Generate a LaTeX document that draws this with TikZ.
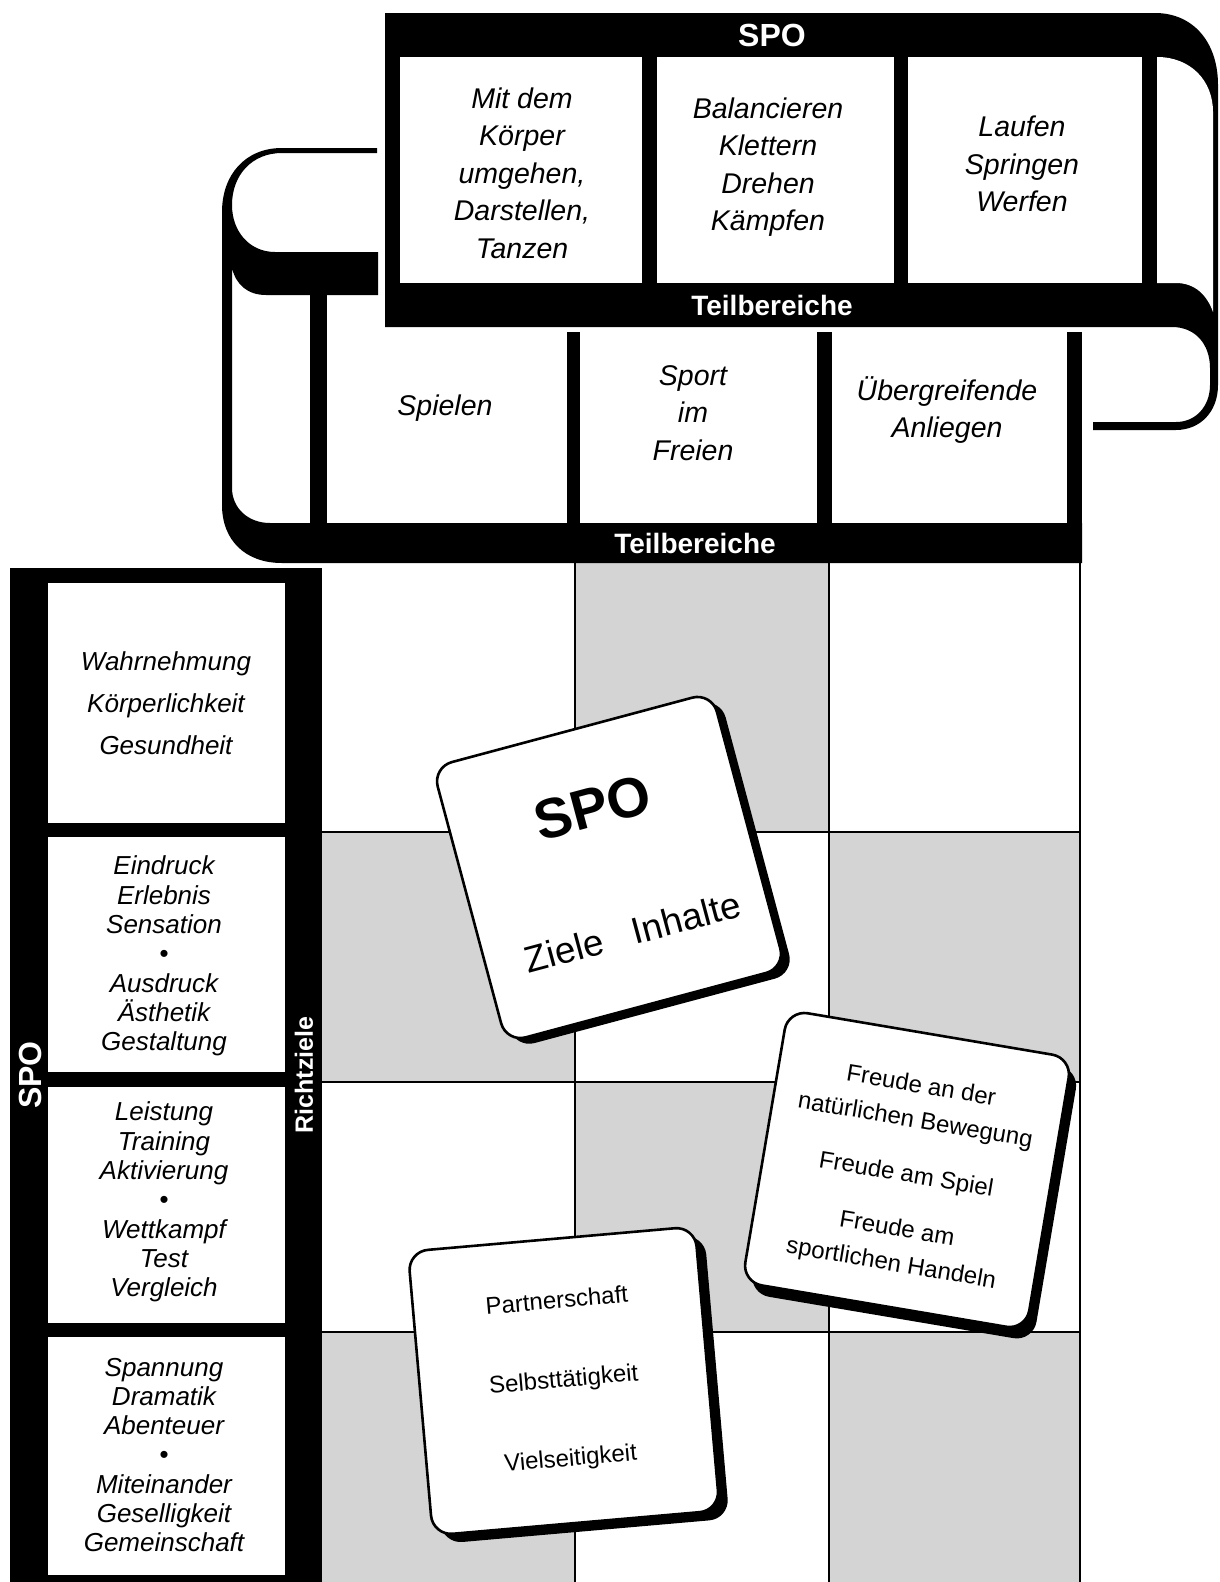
\documentclass[tikz,border=0pt]{standalone}
\usepackage{fontspec}
\setmainfont{Liberation Sans}
\usetikzlibrary{calc}
\begin{document}
\begin{tikzpicture}[x=1pt,y=-1pt]
\tikzset{
  barlbl/.style={text=white, font=\fontsize{28}{30}\selectfont\bfseries, inner sep=0pt},
  cellhi/.style={align=center, font=\fontsize{28.5}{37.5}\selectfont\itshape, inner sep=0pt},
  cellleft/.style={align=center, font=\fontsize{26}{29.3}\selectfont\itshape, inner sep=0pt},
  card/.style={rectangle, draw=black, line width=2.6pt, fill=white, rounded corners=20pt, inner sep=0pt, align=center},
  cardsh/.style={rectangle, fill=black, rounded corners=20pt, inner sep=0pt},
  gcell/.style={fill=black!17},
  gline/.style={line width=2.2pt},
}
\path[use as bounding box, fill=white] (0,0) rectangle (1220,1582);

% ---------- grid ----------
\fill[gcell] (575,563) rectangle (829,832);
\fill[gcell] (322,832) rectangle (575,1082);
\fill[gcell] (829,832) rectangle (1080,1082);
\fill[gcell] (575,1082) rectangle (829,1332);
\fill[gcell] (322,1332) rectangle (575,1582);
\fill[gcell] (829,1332) rectangle (1080,1582);
\draw[gline] (575,563) -- (575,1582);
\draw[gline] (829,563) -- (829,1582);
\draw[gline] (1080,563) -- (1080,1582);
\draw[gline] (322,832) -- (1080,832);
\draw[gline] (322,1082) -- (1080,1082);
\draw[gline] (322,1332) -- (1080,1332);

% ---------- left column (Richtziele) ----------
\fill (10,568) rectangle (322,1582);
\fill[white] (48,583) rectangle (285,823);
\fill[white] (48,837) rectangle (285,1072);
\fill[white] (48,1087) rectangle (285,1323);
\fill[white] (48,1337) rectangle (285,1575);
\node[barlbl, font=\fontsize{32}{34}\selectfont\bfseries, rotate=90] (lspo) at (30,1075) {SPO};
\node[barlbl, font=\fontsize{25}{27}\selectfont\bfseries, rotate=90] (richt) at (304,1075) {Richtziele};
\node[cellleft, font=\fontsize{26}{42}\selectfont\itshape] (r1) at (166,703) {Wahrnehmung\\Körperlichkeit\\Gesundheit};
\node[cellleft] (r2) at (164,956) {Eindruck\\Erlebnis\\Sensation\\\textbullet\\Ausdruck\\Ästhetik\\Gestaltung};
\node[cellleft] (r3) at (164,1202) {Leistung\\Training\\Aktivierung\\\textbullet\\Wettkampf\\Test\\Vergleich};
\node[cellleft] (r4) at (164,1455) {Spannung\\Dramatik\\Abenteuer\\\textbullet\\Miteinander\\Geselligkeit\\Gemeinschaft};

% ---------- lower section (second strip) ----------
\fill (377,148) -- (282,148) .. controls (245,148) and (222,175) .. (222,212)
  -- (222,505) .. controls (222,540) and (245,563) .. (282,563)
  -- (1082,563) -- (1082,523) -- (270,523) .. controls (248,523) and (232,508) .. (232,488)
  -- (232,268) .. controls (236,285) and (248,295) .. (266,295)
  -- (378,295) -- (378,252) -- (275,252) .. controls (250,252) and (232,232) .. (232,205)
  .. controls (232,175) and (252,153) .. (282,153) -- (377,153) -- cycle;
\fill (310,295) rectangle (327,523);
\fill (567,332) rectangle (580,523);
\fill (817,332) rectangle (832,523);
\fill (1067,332) rectangle (1082,563);
\node[barlbl] (tb2) at (695,543) {Teilbereiche};
\node[cellhi] (spielen) at (445,408) {Spielen};
\node[cellhi] (sport) at (693,413) {Sport\\im\\Freien};
\node[cellhi] (uebergr) at (947,410) {Übergreifende\\Anliegen};

% ---------- upper section (first strip) ----------
\fill (385,13) -- (1155,13) .. controls (1193,13) and (1218,42) .. (1218,85)
  -- (1218,385) .. controls (1218,412) and (1200,430) .. (1176,430)
  -- (1093,430) -- (1093,422) -- (1176,422) .. controls (1196,422) and (1210,406) .. (1210,385)
  -- (1210,368) .. controls (1210,345) and (1196,327) .. (1172,327)
  -- (385,327) -- cycle;
\fill[white] (400,57) rectangle (642,283);
\fill[white] (657,57) rectangle (894,283);
\fill[white] (908,57) rectangle (1142,283);
\fill[white] (1157,57) .. controls (1190,57) and (1213,80) .. (1213,112)
  -- (1213,312) .. controls (1207,295) and (1195,283) .. (1176,283) -- (1157,283) -- cycle;
\node[barlbl, font=\fontsize{32}{34}\selectfont\bfseries] (spotop) at (772,35) {SPO};
\node[barlbl] (tb1) at (772,305) {Teilbereiche};
\node[cellhi] (koerper) at (522,173) {Mit dem\\Körper\\umgehen,\\Darstellen,\\Tanzen};
\node[cellhi] (balanc) at (768,167) {Balancieren\\Klettern\\Drehen\\Kämpfen};
\node[cellhi] (laufen) at (1022,164) {Laufen\\Springen\\Werfen};

% ---------- cards ----------
% big SPO card
\node[cardsh, rotate=15, minimum width=289pt, minimum height=285pt] (bigsh) at (617.8,873.2) {};
\node[card, rotate=15, minimum width=289pt, minimum height=285pt] (big) at (609,867.5)
  {{\fontsize{56}{60}\selectfont\bfseries SPO}\\[96pt]{\fontsize{37}{40}\selectfont\hspace*{12pt}Ziele\hspace{31pt}Inhalte}};

% Freude card
\node[cardsh, rotate=-9.6, minimum width=288pt, minimum height=276pt] (frsh) at (914.2,1181.4) {};
\node[card, rotate=-9.6, minimum width=288pt, minimum height=276pt, font=\fontsize{24}{35}\selectfont] (freude) at (907,1170)
  {\\[-6pt]Freude an der\\natürlichen Bewegung\\[20pt]Freude am Spiel\\[20pt]Freude am\\sportlichen Handeln};

% Partnerschaft card
\node[cardsh, rotate=5, minimum width=288pt, minimum height=285pt] (pash) at (573.5,1389.2) {};
\node[card, rotate=5, minimum width=288pt, minimum height=285pt, font=\fontsize{24}{79}\selectfont] (partner) at (563.8,1381)
  {Partnerschaft\\Selbsttätigkeit\\Vielseitigkeit};
\end{tikzpicture}
\end{document}
